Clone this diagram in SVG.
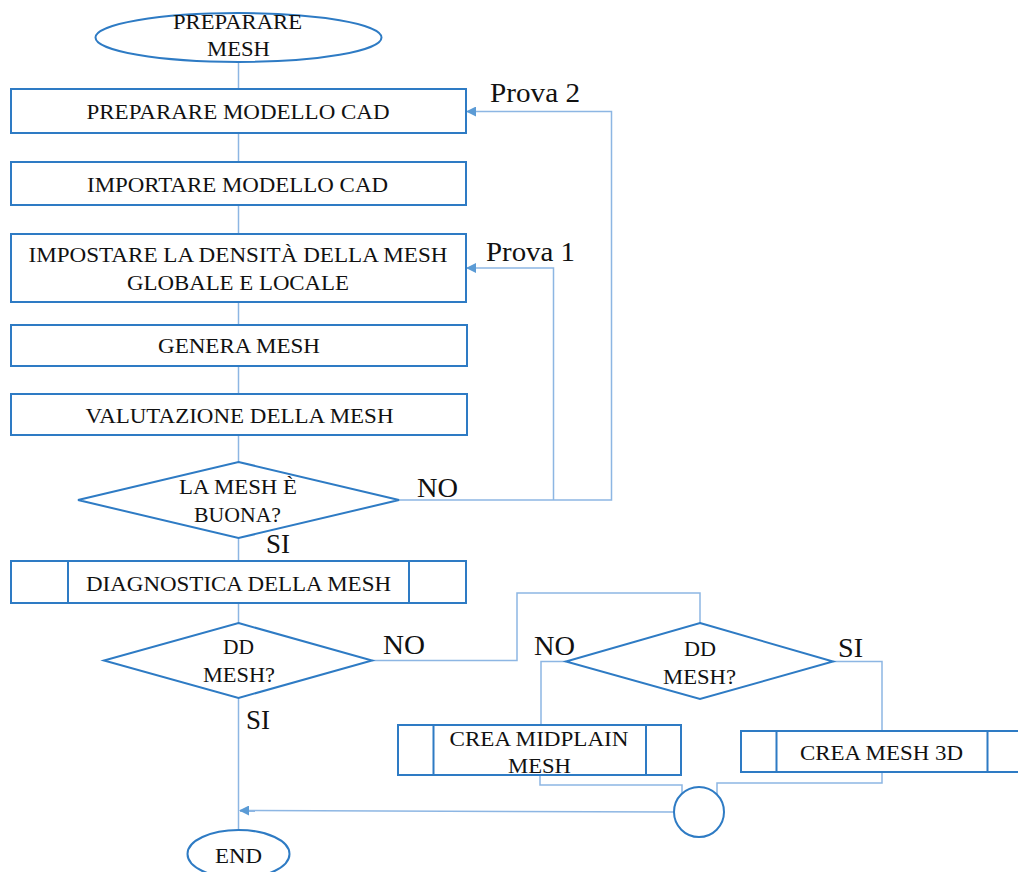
<svg xmlns="http://www.w3.org/2000/svg" width="1018" height="872" viewBox="0 0 1018 872">
  <style>
    .shape { fill: #ffffff; stroke: #2E7BC4; stroke-width: 2; }
    .inner { fill: none; stroke: #2E7BC4; stroke-width: 2; }
    .conn { fill: none; stroke: #8DB6E3; stroke-width: 1.5; }
    .t { font-family: "Liberation Serif", "Times New Roman", serif; font-size: 20.5px; fill: #111111; text-anchor: start; }
    .lbl { font-family: "Liberation Serif", "Times New Roman", serif; font-size: 27px; fill: #111111; }
  </style>
  <defs>
    <marker id="arrow" viewBox="0 0 10 10" refX="9" refY="5" markerWidth="10" markerHeight="10" markerUnits="userSpaceOnUse" orient="auto">
      <path d="M0 0 L10 5 L0 10 Z" fill="#5B9BD5"/>
    </marker>
  </defs>
  <rect width="1018" height="872" fill="#ffffff"/>

  <!-- connectors -->
  <g id="connectors">
    <path class="conn" d="M238.5 62 V89"/>
    <path class="conn" d="M238.5 133 V162"/>
    <path class="conn" d="M238.5 205 V234"/>
    <path class="conn" d="M238.5 302 V325"/>
    <path class="conn" d="M238.5 366 V394"/>
    <path class="conn" d="M238.5 435 V462"/>
    <path class="conn" d="M238.5 538 V561"/>
    <path class="conn" d="M238.5 603 V623"/>
    <path class="conn" d="M238.5 698 V830"/>
    <path class="conn" d="M399 500 H611.5 V111.5 H467" marker-end="url(#arrow)"/>
    <path class="conn" d="M553.5 500 V268 H467" marker-end="url(#arrow)"/>
    <path class="conn" d="M372 660.5 H517 V593 H700 V623"/>
    <path class="conn" d="M566 661.5 H541 V725"/>
    <path class="conn" d="M833 661.5 H882 V731"/>
    <path class="conn" d="M540 775 V785 H682 V794"/>
    <path class="conn" d="M882 772 V783 H717 V795"/>
    <path class="conn" d="M674 812 L240 810.5" marker-end="url(#arrow)"/>
  </g>

  <!-- labels on branches -->
  <g id="branch-labels">
    <text class="lbl" x="490" y="102" textLength="90" lengthAdjust="spacingAndGlyphs">Prova 2</text>
    <text class="lbl" x="486" y="261" textLength="89" lengthAdjust="spacingAndGlyphs">Prova 1</text>
    <text class="lbl" x="417" y="497" textLength="41" lengthAdjust="spacingAndGlyphs">NO</text>
    <text class="lbl" x="266" y="553" textLength="24" lengthAdjust="spacingAndGlyphs">SI</text>
    <text class="lbl" x="383" y="654" textLength="42" lengthAdjust="spacingAndGlyphs">NO</text>
    <text class="lbl" x="246" y="729" textLength="24" lengthAdjust="spacingAndGlyphs">SI</text>
    <text class="lbl" x="534" y="655" textLength="41" lengthAdjust="spacingAndGlyphs">NO</text>
    <text class="lbl" x="838" y="657" textLength="25" lengthAdjust="spacingAndGlyphs">SI</text>
  </g>

  <g id="start">
    <ellipse class="shape" cx="238.5" cy="37.5" rx="143" ry="24.5"/>
    <text class="t" x="173" y="29" textLength="129" lengthAdjust="spacingAndGlyphs">PREPARARE</text>
    <text class="t" x="207" y="56" textLength="63" lengthAdjust="spacingAndGlyphs">MESH</text>
  </g>

  <g id="prepare-cad">
    <rect class="shape" x="11" y="89" width="455" height="44"/>
    <text class="t" x="86.5" y="119" textLength="303" lengthAdjust="spacingAndGlyphs">PREPARARE  MODELLO  CAD</text>
  </g>

  <g id="import-cad">
    <rect class="shape" x="11" y="162" width="455" height="43"/>
    <text class="t" x="87" y="192" textLength="301" lengthAdjust="spacingAndGlyphs">IMPORTARE MODELLO CAD</text>
  </g>

  <g id="mesh-density">
    <rect class="shape" x="11" y="234" width="455" height="68"/>
    <text class="t" x="28.5" y="262" textLength="419" lengthAdjust="spacingAndGlyphs">IMPOSTARE LA DENSITÀ DELLA MESH</text>
    <text class="t" x="127" y="290" textLength="222" lengthAdjust="spacingAndGlyphs">GLOBALE  E LOCALE</text>
  </g>

  <g id="generate">
    <rect class="shape" x="11" y="325" width="456" height="41"/>
    <text class="t" x="158" y="353" textLength="162" lengthAdjust="spacingAndGlyphs">GENERA MESH</text>
  </g>

  <g id="evaluate">
    <rect class="shape" x="11" y="394" width="456" height="41"/>
    <text class="t" x="85.5" y="423" textLength="308" lengthAdjust="spacingAndGlyphs">VALUTAZIONE  DELLA MESH</text>
  </g>

  <g id="mesh-ok">
    <polygon class="shape" points="238.5,462 399,500 238.5,538 78,500"/>
    <text class="t" x="179" y="494" textLength="118" lengthAdjust="spacingAndGlyphs">LA MESH È</text>
    <text class="t" x="194" y="522" textLength="87" lengthAdjust="spacingAndGlyphs">BUONA?</text>
  </g>

  <g id="diagnostics">
    <rect class="shape" x="11" y="561" width="455" height="42"/>
    <path class="inner" d="M68 561 V603 M409 561 V603"/>
    <text class="t" x="86" y="591" textLength="305" lengthAdjust="spacingAndGlyphs">DIAGNOSTICA  DELLA MESH</text>
  </g>

  <g id="dd-mesh-1">
    <polygon class="shape" points="238.5,623 372,660.5 238.5,698 104,660.5"/>
    <text class="t" x="223" y="654" textLength="31" lengthAdjust="spacingAndGlyphs">DD</text>
    <text class="t" x="203" y="682" textLength="72" lengthAdjust="spacingAndGlyphs">MESH?</text>
  </g>

  <g id="dd-mesh-2">
    <polygon class="shape" points="700,623 833,661.5 700,699 566,661.5"/>
    <text class="t" x="684" y="656" textLength="32" lengthAdjust="spacingAndGlyphs">DD</text>
    <text class="t" x="663" y="684" textLength="73" lengthAdjust="spacingAndGlyphs">MESH?</text>
  </g>

  <g id="midplane-mesh">
    <rect class="shape" x="398" y="725" width="283" height="50"/>
    <path class="inner" d="M433.5 725 V775 M646 725 V775"/>
    <text class="t" x="449.5" y="746" textLength="179" lengthAdjust="spacingAndGlyphs">CREA MIDPLAIN</text>
    <text class="t" x="508" y="773" textLength="63" lengthAdjust="spacingAndGlyphs">MESH</text>
  </g>

  <g id="mesh-3d">
    <rect class="shape" x="741" y="731" width="300" height="41"/>
    <path class="inner" d="M776.5 731 V772 M987.5 731 V772"/>
    <text class="t" x="800" y="760" textLength="163" lengthAdjust="spacingAndGlyphs">CREA MESH 3D</text>
  </g>

  <g id="join">
    <circle class="shape" cx="699" cy="812" r="25"/>
  </g>

  <g id="end">
    <ellipse class="shape" cx="238.5" cy="854" rx="51" ry="24"/>
    <text class="t" x="215" y="863" textLength="47" lengthAdjust="spacingAndGlyphs">END</text>
  </g>
</svg>
